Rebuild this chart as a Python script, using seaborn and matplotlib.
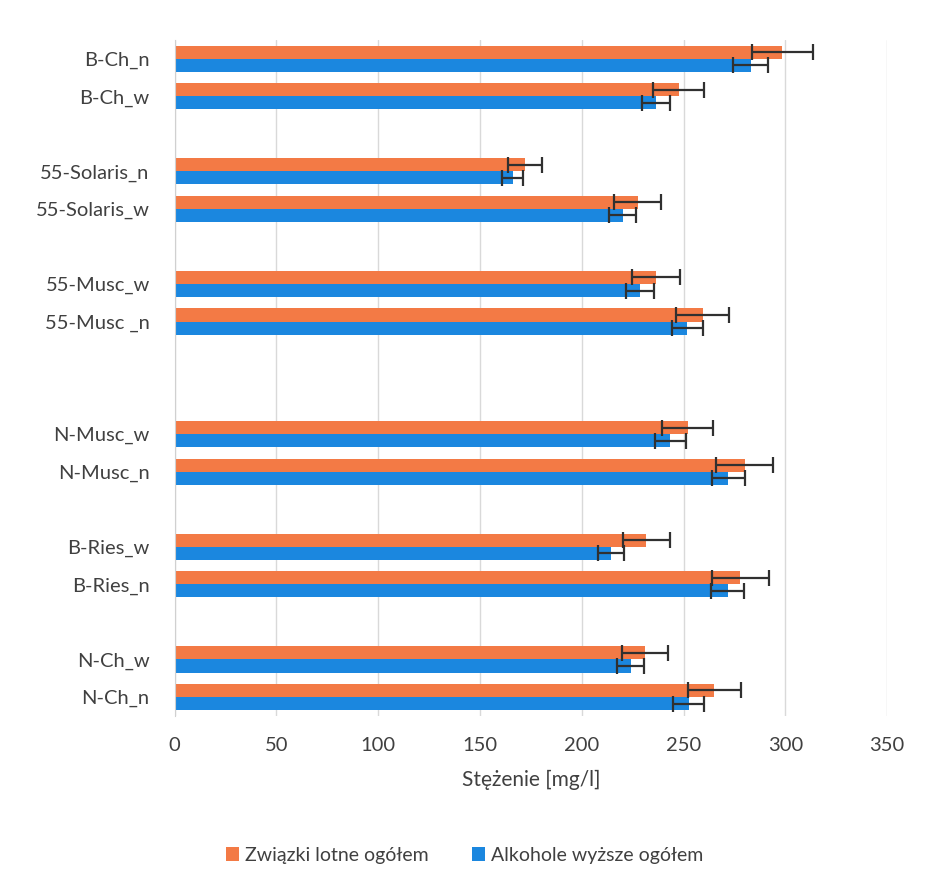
import matplotlib
matplotlib.use('Agg')
import matplotlib.pyplot as plt
import numpy as np
import pandas as pd
import seaborn as sns

# rows as in the chart (top to bottom), None = empty slot between groups
rows = ['B-Ch_n', 'B-Ch_w', None, '55-Solaris_n', '55-Solaris_w', None,
        '55-Musc_w', '55-Musc _n', None, None, 'N-Musc_w', 'N-Musc_n', None,
        'B-Ries_w', 'B-Ries_n', None, 'N-Ch_w', 'N-Ch_n']

samples = ['B-Ch_n', 'B-Ch_w', '55-Solaris_n', '55-Solaris_w', '55-Musc_w', '55-Musc _n',
           'N-Musc_w', 'N-Musc_n', 'B-Ries_w', 'B-Ries_n', 'N-Ch_w', 'N-Ch_n']
lotne = [298.5, 247.5, 172, 227.5, 236.4, 259.5, 252, 280, 231.7, 277.7, 231, 265]
lotne_err = [15, 12.3, 8.5, 11.5, 11.8, 13, 12.6, 14, 11.5, 14, 11.5, 13]
alkohole = [283, 236.5, 166, 220, 228.5, 251.8, 243.5, 272, 214.4, 271.6, 224, 252.5]
alkohole_err = [8.5, 7, 5, 6.7, 7, 7.5, 7.5, 8, 6.4, 8, 6.5, 7.5]

series = ['Związki lotne ogółem', 'Alkohole wyższe ogółem']
colors = ['#F37A45', '#1B87DF']

order = [r if r is not None else f'_gap{i}' for i, r in enumerate(rows)]

df = pd.concat([
    pd.DataFrame({'Próbka': samples, 'Wartość': lotne, 'Err': lotne_err, 'Seria': series[0]}),
    pd.DataFrame({'Próbka': samples, 'Wartość': alkohole, 'Err': alkohole_err, 'Seria': series[1]}),
])

sns.set_style('white')
plt.rcParams['font.family'] = ['Lato', 'DejaVu Sans']

fig = plt.figure(figsize=(9.29, 8.88), dpi=100)
ax = fig.add_axes([0.188, 0.194, 0.767, 0.761])

sns.barplot(data=df, y='Próbka', x='Wartość', hue='Seria', order=order,
            hue_order=series, palette=colors, orient='h', width=0.7,
            errorbar=None, saturation=1, linewidth=0, ax=ax, legend=True)

# error bars from the given deviations, placed on the drawn bars
for cont, s in zip(ax.containers, series):
    sub = df[df['Seria'] == s].set_index('Próbka')
    for bar in cont:
        w = bar.get_width()
        yc = bar.get_y() + bar.get_height() / 2
        if np.isnan(w) or w == 0:
            continue
        row = sub[np.isclose(sub['Wartość'], w)]
        if row.empty:
            continue
        ax.errorbar(w, yc, xerr=row['Err'].iloc[0], fmt='none', ecolor='#303030',
                    elinewidth=1.6, capsize=6, capthick=1.6, zorder=5)

ax.set_xlim(0, 350)
ax.set_xticks(range(0, 351, 50))
ax.set_ylim(len(order) - 0.5, -0.5)
ax.set_yticks(range(len(order)))
ax.set_yticklabels([r if r is not None else '' for r in rows])
ax.xaxis.grid(True, color='#D9D9D9', linewidth=1)
ax.yaxis.grid(False)
ax.set_axisbelow(True)
for sp in ['top', 'right', 'bottom']:
    ax.spines[sp].set_visible(False)
ax.spines['left'].set_color('#D0D0D0')
ax.tick_params(axis='both', length=0, labelsize=14.5, colors='#404040')
ax.tick_params(axis='x', pad=15)
ax.tick_params(axis='y', pad=18)
ax.set_ylabel('')
ax.set_xlabel('Stężenie [mg/l]', fontsize=15, color='#404040', labelpad=12)

handles, labels = ax.get_legend_handles_labels()
ax.get_legend().remove()
fig.legend(handles, labels, loc='center', bbox_to_anchor=(0.5, 1 - 855 / 888), ncol=2,
           frameon=False, fontsize=14, handlelength=0.7, handleheight=0.7,
           handletextpad=0.3, columnspacing=2.2, labelcolor='#404040')

fig.savefig('out.png', dpi=100)
